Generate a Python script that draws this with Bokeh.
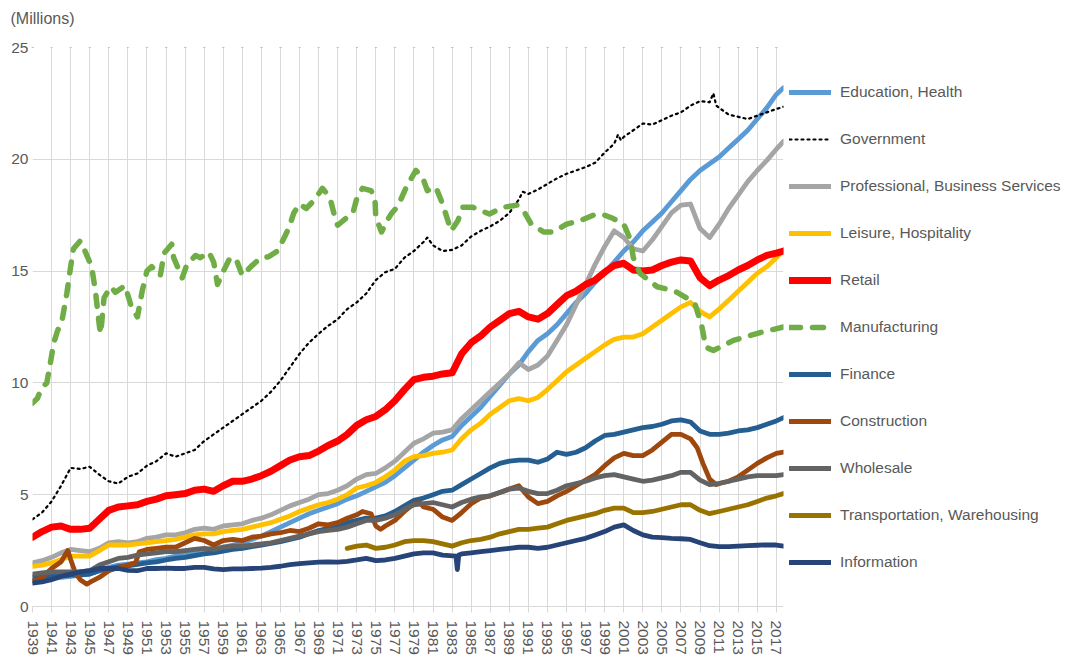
from bokeh.plotting import figure
from bokeh.models import Range1d, FixedTicker, Legend, LegendItem, LinearAxis
from bokeh.embed import file_html
from bokeh.resources import INLINE

# ---------------- data (millions of jobs) ----------------
YEARS = list(range(1939, 2018)) + [2017.75]

education = [1.15, 1.2, 1.25, 1.3, 1.35, 1.4, 1.45, 1.6, 1.75, 1.85,
             1.9, 1.95, 2.0, 2.1, 2.15, 2.25, 2.35, 2.45, 2.5, 2.6,
             2.65, 2.75, 2.85, 3.0, 3.15, 3.35, 3.55, 3.75, 3.95, 4.15,
             4.3, 4.45, 4.6, 4.8, 4.95, 5.15, 5.35, 5.55, 5.85, 6.2,
             6.55, 6.9, 7.2, 7.45, 7.6, 8.1, 8.5, 8.9, 9.4, 9.9,
             10.4, 10.8, 11.4, 11.9, 12.2, 12.6, 13.1, 13.6, 14.0, 14.5,
             14.95, 15.4, 15.9, 16.3, 16.8, 17.2, 17.6, 18.1, 18.6, 19.1,
             19.5, 19.8, 20.1, 20.5, 20.9, 21.3, 21.8, 22.3, 22.9, 23.2]

professional = [1.95, 2.05, 2.2, 2.4, 2.55, 2.5, 2.45, 2.6, 2.85, 2.9,
                2.85, 2.9, 3.05, 3.1, 3.2, 3.2, 3.3, 3.45, 3.5, 3.45,
                3.6, 3.65, 3.7, 3.85, 3.95, 4.1, 4.3, 4.5, 4.65, 4.8,
                5.0, 5.05, 5.2, 5.4, 5.7, 5.9, 5.95, 6.2, 6.5, 6.9,
                7.3, 7.5, 7.75, 7.8, 7.9, 8.4, 8.8, 9.2, 9.6, 10.0,
                10.4, 10.9, 10.6, 10.8, 11.2, 11.9, 12.6, 13.5, 14.4, 15.3,
                16.1, 16.8, 16.5, 16.0, 15.9, 16.4, 17.0, 17.6, 17.95, 18.0,
                16.9, 16.5, 17.1, 17.8, 18.4, 19.0, 19.5, 19.95, 20.45, 20.8]

leisure = [1.8, 1.85, 1.95, 2.1, 2.25, 2.25, 2.25, 2.5, 2.75, 2.75,
           2.75, 2.8, 2.85, 2.9, 2.95, 3.0, 3.1, 3.2, 3.25, 3.25,
           3.35, 3.4, 3.45, 3.55, 3.65, 3.75, 3.9, 4.05, 4.25, 4.4,
           4.55, 4.65, 4.8, 5.0, 5.3, 5.4, 5.55, 5.8, 6.1, 6.5,
           6.7, 6.75, 6.85, 6.9, 7.0, 7.5, 7.9, 8.2, 8.6, 8.9,
           9.2, 9.3, 9.2, 9.35, 9.7, 10.1, 10.5, 10.8, 11.1, 11.4,
           11.7, 11.95, 12.05, 12.05, 12.2, 12.5, 12.8, 13.1, 13.4, 13.6,
           13.2, 12.95, 13.3, 13.7, 14.1, 14.5, 14.9, 15.2, 15.6, 15.95]

retail = [3.1, 3.35, 3.55, 3.6, 3.45, 3.45, 3.5, 3.9, 4.3, 4.45,
          4.5, 4.55, 4.7, 4.8, 4.95, 5.0, 5.05, 5.2, 5.25, 5.15,
          5.4, 5.6, 5.6, 5.7, 5.85, 6.05, 6.3, 6.55, 6.7, 6.75,
          6.95, 7.2, 7.4, 7.7, 8.1, 8.35, 8.5, 8.8, 9.2, 9.7,
          10.15, 10.25, 10.3, 10.4, 10.45, 11.3, 11.8, 12.1, 12.5, 12.8,
          13.1, 13.2, 12.95, 12.85, 13.1, 13.5, 13.9, 14.1, 14.4, 14.6,
          14.95, 15.25, 15.35, 15.05, 15.0, 15.05, 15.25, 15.4, 15.5, 15.45,
          14.7, 14.35, 14.6, 14.8, 15.05, 15.25, 15.5, 15.7, 15.8, 15.9]

finance = [1.3, 1.32, 1.35, 1.38, 1.4, 1.42, 1.45, 1.6, 1.7, 1.78,
           1.82, 1.88, 1.95, 2.0, 2.08, 2.15, 2.2, 2.28, 2.35, 2.4,
           2.48, 2.55, 2.6, 2.68, 2.75, 2.82, 2.9, 3.0, 3.1, 3.25,
           3.4, 3.5, 3.6, 3.75, 3.85, 3.95, 3.95, 4.05, 4.25, 4.5,
           4.75, 4.85, 5.0, 5.15, 5.2, 5.45, 5.7, 5.95, 6.2, 6.4,
           6.5, 6.55, 6.55, 6.45, 6.6, 6.9, 6.8, 6.9, 7.1, 7.4,
           7.65, 7.7, 7.8, 7.9, 8.0, 8.05, 8.15, 8.3, 8.35, 8.25,
           7.85, 7.7, 7.7, 7.75, 7.85, 7.9, 8.0, 8.15, 8.3, 8.45]

wholesale = [1.45, 1.5, 1.55, 1.55, 1.55, 1.55, 1.6, 1.85, 2.0, 2.15,
             2.2, 2.3, 2.35, 2.4, 2.45, 2.45, 2.5, 2.55, 2.6, 2.55,
             2.65, 2.7, 2.7, 2.75, 2.8, 2.85, 2.95, 3.05, 3.15, 3.25,
             3.35, 3.4, 3.45, 3.55, 3.7, 3.85, 3.85, 3.95, 4.1, 4.35,
             4.55, 4.6, 4.65, 4.55, 4.45, 4.65, 4.8, 4.9, 4.95, 5.1,
             5.25, 5.3, 5.15, 5.05, 5.05, 5.2, 5.4, 5.5, 5.6, 5.75,
             5.85, 5.9, 5.8, 5.7, 5.6, 5.65, 5.75, 5.85, 6.0, 6.0,
             5.65, 5.45, 5.5, 5.6, 5.7, 5.8, 5.85, 5.85, 5.85, 5.9]

gov_years = [1939, 1940, 1941, 1942, 1943, 1944, 1945, 1946, 1947, 1948,
             1949, 1950, 1951, 1952, 1953, 1954, 1955, 1956, 1957, 1958,
             1959, 1960, 1961, 1962, 1963, 1964, 1965, 1966, 1967, 1968,
             1969, 1970, 1971, 1972, 1973, 1974, 1975, 1976, 1977, 1978,
             1979, 1980, 1980.4, 1981, 1982, 1983, 1984, 1985, 1986, 1987,
             1988, 1989, 1990, 1990.4, 1991, 1992, 1993, 1994, 1995, 1996,
             1997, 1998, 1999, 2000, 2000.4, 2000.7, 2001, 2002, 2003, 2004,
             2005, 2006, 2007, 2008, 2009, 2010, 2010.4, 2010.7, 2011, 2012,
             2013, 2014, 2015, 2016, 2017, 2017.75]
government = [3.9, 4.2, 4.7, 5.4, 6.2, 6.15, 6.25, 5.9, 5.6, 5.5,
              5.8, 5.95, 6.3, 6.5, 6.85, 6.7, 6.85, 7.0, 7.4, 7.7,
              8.0, 8.3, 8.6, 8.9, 9.2, 9.6, 10.1, 10.7, 11.3, 11.8,
              12.2, 12.55, 12.85, 13.3, 13.6, 14.0, 14.6, 14.95, 15.1, 15.6,
              15.9, 16.3, 16.5, 16.15, 15.9, 15.95, 16.15, 16.55, 16.8, 17.0,
              17.25, 17.6, 18.2, 18.55, 18.45, 18.65, 18.9, 19.15, 19.35, 19.5,
              19.65, 19.85, 20.3, 20.7, 21.1, 20.85, 21.0, 21.3, 21.6, 21.55,
              21.75, 21.95, 22.1, 22.4, 22.6, 22.55, 22.95, 22.4, 22.3, 22.0,
              21.9, 21.8, 21.95, 22.1, 22.25, 22.35]

mfg_years = [1939.0, 1939.5, 1940.0, 1940.5, 1941.0, 1941.2, 1941.6, 1942.1, 1942.6, 1943.0,
             1943.3, 1944.0, 1944.5, 1945.2, 1945.6, 1946.0, 1946.15, 1946.5, 1947.2, 1947.7,
             1948.7, 1949.3, 1950.0, 1950.5, 1951.0, 1951.5, 1952.4, 1952.8, 1953.6, 1953.8,
             1954.2, 1954.7, 1955.2, 1956.1, 1956.6, 1957.5, 1958.0, 1958.4, 1958.9, 1959.6,
             1960.3, 1961.0, 1961.9, 1962.8, 1963.8, 1964.7, 1965.4, 1965.9, 1966.4, 1967.0,
             1967.7, 1968.5, 1969.4, 1969.8, 1970.3, 1970.8, 1971.0, 1971.7, 1972.6, 1973.1,
             1973.6, 1974.5, 1974.9, 1975.0, 1975.6, 1976.1, 1976.6, 1977.3, 1978.2, 1979.2,
             1979.9, 1980.4, 1981.3, 1982.0, 1982.9, 1983.6, 1984.1, 1985.2, 1986.9, 1988.3,
             1989.8, 1990.5, 1991.3, 1992.6, 1993.6, 1995.0, 1996.4, 1997.8, 1998.7, 1999.9,
             2001.0, 2001.7, 2002.0, 2002.7, 2004.5, 2005.5, 2006.6, 2007.6, 2008.5, 2009.2,
             2009.6, 2010.4, 2012.5, 2015.3, 2017.75]
manufacturing = [9.1, 9.3, 9.8, 10.0, 11.2, 11.75, 12.3, 12.8, 14.0, 15.2,
                 16.0, 16.35, 15.9, 15.2, 14.1, 12.6, 12.2, 13.8, 14.3, 14.05,
                 14.35, 13.5, 12.95, 14.1, 15.0, 15.2, 14.8, 15.8, 16.2, 15.6,
                 15.2, 14.7, 15.3, 15.7, 15.6, 15.85, 15.4, 14.4, 14.9, 15.5,
                 15.6, 14.8, 15.2, 15.55, 15.65, 15.9, 16.5, 16.95, 17.6, 18.0,
                 17.8, 18.15, 18.7, 18.5, 18.1, 17.25, 17.05, 17.3, 17.6, 18.4,
                 18.7, 18.6, 18.3, 17.4, 16.75, 17.2, 17.55, 17.9, 18.75, 19.5,
                 19.2, 18.6, 18.75, 18.0, 16.8, 17.25, 17.85, 17.85, 17.55, 17.85,
                 17.95, 17.7, 17.1, 16.75, 16.75, 17.1, 17.25, 17.5, 17.55, 17.35,
                 17.1, 16.4, 15.6, 14.9, 14.3, 14.2, 14.05, 13.8, 13.5, 12.5,
                 11.6, 11.45, 11.9, 12.25, 12.5]

con_years = [1939, 1940, 1941, 1942, 1942.7, 1943, 1943.5, 1944, 1944.7, 1945.3,
             1946, 1947, 1948, 1949, 1949.8, 1950.2, 1951, 1952, 1953, 1954,
             1955, 1956, 1957, 1958, 1959, 1960, 1961, 1962, 1963, 1964,
             1965, 1966, 1967, 1968, 1969, 1970, 1971, 1972, 1973, 1973.6,
             1974.5, 1975, 1975.5, 1976, 1977, 1978, 1979, 1979.6, 1980, 1981,
             1982, 1983, 1984, 1985, 1986, 1987, 1988, 1989, 1990, 1991,
             1992, 1993, 1994, 1995, 1996, 1997, 1998, 1999, 2000, 2001,
             2002, 2003, 2004, 2005, 2006, 2007, 2008, 2008.7, 2009.3, 2010,
             2010.7, 2011, 2012, 2013, 2014, 2015, 2016, 2017, 2017.75]
construction = [1.15, 1.3, 1.7, 2.0, 2.5, 2.1, 1.5, 1.2, 1.0, 1.15,
                1.3, 1.6, 1.75, 1.85, 1.95, 2.45, 2.55, 2.6, 2.65, 2.65,
                2.85, 3.05, 2.95, 2.75, 2.95, 3.0, 2.95, 3.1, 3.15, 3.25,
                3.3, 3.4, 3.35, 3.5, 3.7, 3.65, 3.75, 3.95, 4.1, 4.25,
                4.15, 3.6, 3.45, 3.6, 3.85, 4.25, 4.6, 4.65, 4.45, 4.35,
                4.0, 3.85, 4.2, 4.6, 4.85, 4.95, 5.1, 5.25, 5.4, 4.9,
                4.6, 4.7, 4.95, 5.15, 5.4, 5.65, 5.9, 6.3, 6.65, 6.85,
                6.75, 6.75, 7.0, 7.35, 7.7, 7.7, 7.5, 7.1, 6.4, 5.7,
                5.45, 5.5, 5.6, 5.8, 6.1, 6.4, 6.65, 6.85, 6.9]

trans_years = [1972, 1973, 1974, 1975, 1976, 1977, 1978, 1979, 1980, 1981,
               1982, 1983, 1984, 1985, 1986, 1987, 1988, 1989, 1990, 1991,
               1992, 1993, 1994, 1995, 1996, 1997, 1998, 1999, 2000, 2001,
               2002, 2003, 2004, 2005, 2006, 2007, 2008, 2009, 2010, 2011,
               2012, 2013, 2014, 2015, 2016, 2017, 2017.75]
transportation = [2.6, 2.7, 2.75, 2.6, 2.65, 2.75, 2.9, 2.95, 2.95, 2.9,
                  2.8, 2.7, 2.85, 2.95, 3.0, 3.1, 3.25, 3.35, 3.45, 3.45,
                  3.5, 3.55, 3.7, 3.85, 3.95, 4.05, 4.15, 4.3, 4.4, 4.4,
                  4.2, 4.2, 4.25, 4.35, 4.45, 4.55, 4.55, 4.3, 4.15, 4.25,
                  4.35, 4.45, 4.55, 4.7, 4.85, 4.95, 5.05]

info_years = [1939, 1940, 1941, 1942, 1943, 1944, 1945, 1946, 1947, 1948,
              1949, 1950, 1951, 1952, 1953, 1954, 1955, 1956, 1957, 1958,
              1959, 1960, 1961, 1962, 1963, 1964, 1965, 1966, 1967, 1968,
              1969, 1970, 1971, 1972, 1973, 1974, 1975, 1976, 1977, 1978,
              1979, 1980, 1981, 1982, 1983.4, 1983.55, 1983.7, 1984, 1985, 1986,
              1987, 1988, 1989, 1990, 1991, 1992, 1993, 1994, 1995, 1996,
              1997, 1998, 1999, 2000, 2001, 2002, 2003, 2004, 2005, 2006,
              2007, 2008, 2009, 2010, 2011, 2012, 2013, 2014, 2015, 2016,
              2017, 2017.75]
information = [1.05, 1.1, 1.2, 1.35, 1.45, 1.55, 1.6, 1.7, 1.7, 1.7,
               1.62, 1.6, 1.7, 1.7, 1.72, 1.7, 1.7, 1.75, 1.75, 1.68,
               1.65, 1.68, 1.68, 1.7, 1.72, 1.75, 1.8, 1.87, 1.92, 1.95,
               1.98, 2.0, 1.98, 2.02, 2.08, 2.15, 2.05, 2.08, 2.15, 2.25,
               2.35, 2.4, 2.4, 2.3, 2.25, 1.65, 2.3, 2.35, 2.4, 2.45,
               2.5, 2.55, 2.6, 2.65, 2.65, 2.6, 2.65, 2.75, 2.85, 2.95,
               3.05, 3.2, 3.35, 3.55, 3.65, 3.4, 3.2, 3.1, 3.08, 3.05,
               3.03, 3.0, 2.85, 2.72, 2.68, 2.68, 2.7, 2.72, 2.74, 2.76,
               2.75, 2.7]

X_TICKS = list(range(1939, 2018, 2))
Y_TICKS = [0, 5, 10, 15, 20, 25]

# ---------------- figure ----------------
FONT = "Liberation Sans"
TXT = "#595959"
GRID = "#D9D9D9"

p = figure(frame_width=751, frame_height=559, output_backend="svg",
           toolbar_location=None,
           x_range=Range1d(1939, 2017.75), y_range=Range1d(0, 25),
           min_border_left=26, min_border_top=39, min_border_right=0,
           min_border_bottom=10, outline_line_color=None,
           title="(Millions)")
p.title.text_font = FONT
p.title.text_font_size = "16px"
p.title.text_font_style = "normal"
p.title.text_color = TXT
p.title.align = "left"
p.title.vertical_align = "top"
p.title.offset = -22
p.title.standoff = 18

# empty spacer axis between the title and the plot area
top_spacer = LinearAxis(ticker=FixedTicker(ticks=[]), axis_line_color=None,
                        major_tick_out=0, major_tick_in=0,
                        major_label_standoff=0,
                        major_label_text_font_size="1px",
                        minor_tick_line_color=None,
                        axis_label=" ", axis_label_text_font_size="1px",
                        axis_label_standoff=2)
p.add_layout(top_spacer, "above")

p.xaxis.ticker = FixedTicker(ticks=X_TICKS)
p.yaxis.ticker = FixedTicker(ticks=Y_TICKS)
p.xgrid.ticker = FixedTicker(ticks=X_TICKS)
p.grid.grid_line_color = GRID
p.grid.grid_line_width = 1

bottom_axis = p.below[0]
bottom_axis.axis_line_color = GRID
bottom_axis.major_tick_line_color = GRID
bottom_axis.major_tick_out = 6
bottom_axis.major_tick_in = 0
bottom_axis.minor_tick_line_color = None
bottom_axis.major_label_orientation = "vertical"
bottom_axis.major_label_standoff = 8
bottom_axis.major_label_text_font = FONT
bottom_axis.major_label_text_font_size = "15.5px"
bottom_axis.major_label_text_color = TXT

p.yaxis.axis_line_color = None
p.yaxis.major_tick_line_color = None
p.yaxis.major_tick_out = 0
p.yaxis.major_tick_in = 0
p.yaxis.minor_tick_line_color = None
p.yaxis.major_label_standoff = 4
# spacer so that the plot area starts where the reference's does
p.yaxis.axis_label = " "
p.yaxis.axis_label_text_font_size = "1px"
p.yaxis.axis_label_standoff = 4
p.yaxis.major_label_text_font = FONT
p.yaxis.major_label_text_font_size = "15.5px"
p.yaxis.major_label_text_color = TXT

series = [
    ("Education, Health", YEARS, education, "#5B9BD5", 4.8, "solid"),
    ("Government", gov_years, government, "#000000", 2.2, "2 4"),
    ("Professional, Business Services", YEARS, professional, "#A5A5A5", 4.8, "solid"),
    ("Leisure, Hospitality", YEARS, leisure, "#FFC000", 4.8, "solid"),
    ("Retail", YEARS, retail, "#FF0000", 7, "solid"),
    ("Manufacturing", mfg_years, manufacturing, "#70AD47", 5.5, "11 12"),
    ("Finance", YEARS, finance, "#255E91", 4.8, "solid"),
    ("Construction", con_years, construction, "#9E480E", 4.8, "solid"),
    ("Wholesale", YEARS, wholesale, "#636363", 4.8, "solid"),
    ("Transportation, Warehousing", trans_years, transportation, "#997300", 4.8, "solid"),
    ("Information", info_years, information, "#264478", 4.8, "solid"),
]

items = []
for name, xs, ys, color, w, dash in series:
    r = p.line(xs, ys, line_color=color, line_width=w, line_dash=dash,
               line_cap="round", line_join="round")
    items.append(LegendItem(label=name, renderers=[r]))

legend = Legend(items=items, location="center_left", margin=0, padding=6,
                spacing=27, glyph_width=42, glyph_height=20, label_height=20,
                label_standoff=9, label_text_font=FONT,
                label_text_font_size="15.5px", label_text_color=TXT,
                border_line_alpha=0, background_fill_alpha=0)
p.add_layout(legend, "right")

open("out.html", "w").write(file_html(p, INLINE))
